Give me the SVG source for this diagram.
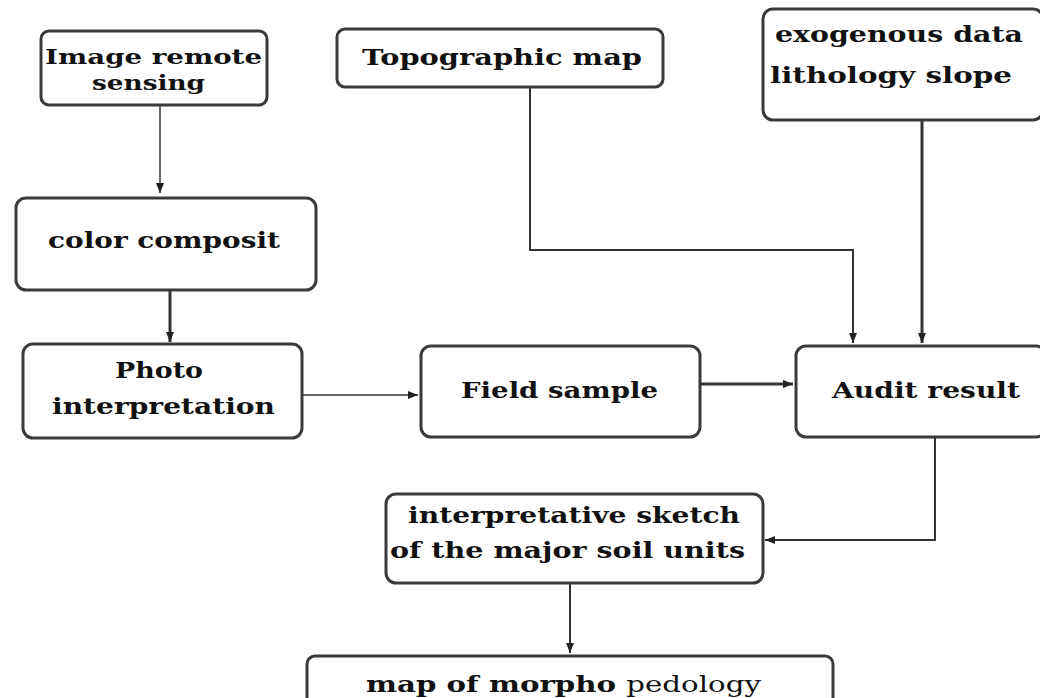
<svg xmlns="http://www.w3.org/2000/svg" width="1040" height="698" viewBox="0 0 1040 698">
<style>
.box{fill:#fff;stroke:#3a3a3a;stroke-width:3}
.t{font-family:"DejaVu Serif","Liberation Serif",serif;font-weight:bold;font-size:23px;fill:#111}
.s{font-size:20px}
.c{fill:none;stroke:#333}
</style>
<defs>
<marker id="ah" viewBox="0 0 10 10" refX="10" refY="5" markerWidth="10" markerHeight="10" markerUnits="userSpaceOnUse" orient="auto">
<path d="M0,1 L10,5 L0,9 z" fill="#222"/>
</marker>
</defs>
<rect width="1040" height="698" fill="#fff"/>
<g id="connectors">
<path class="c" stroke-width="1.5" d="M160,105 V193" marker-end="url(#ah)"/>
<path class="c" stroke-width="3" d="M170,290 V342" marker-end="url(#ah)"/>
<path class="c" stroke-width="1.5" d="M302,395 H418" marker-end="url(#ah)"/>
<path class="c" stroke-width="3" d="M700,384 H793" marker-end="url(#ah)"/>
<path class="c" stroke-width="2" d="M530,87 V250 H853 V343" marker-end="url(#ah)"/>
<path class="c" stroke-width="3" d="M922,120 V343" marker-end="url(#ah)"/>
<path class="c" stroke-width="2" d="M935,437 V540 H765" marker-end="url(#ah)"/>
<path class="c" stroke-width="2" d="M570,583 V653" marker-end="url(#ah)"/>
</g>
<g id="n-image">
<rect class="box" x="41" y="31" width="226" height="74" rx="8"/>
<text class="t s" x="45" y="64" textLength="217" lengthAdjust="spacingAndGlyphs">Image remote</text>
<text class="t s" x="92" y="90" textLength="113" lengthAdjust="spacingAndGlyphs">sensing</text>
</g>
<g id="n-topo">
<rect class="box" x="337" y="29" width="326" height="58" rx="8"/>
<text class="t" x="362" y="65" textLength="280" lengthAdjust="spacingAndGlyphs">Topographic map</text>
</g>
<g id="n-exo">
<rect class="box" x="763" y="9" width="280" height="111" rx="10"/>
<text class="t" x="775" y="42" textLength="248" lengthAdjust="spacingAndGlyphs">exogenous data</text>
<text class="t" x="770" y="83" textLength="242" lengthAdjust="spacingAndGlyphs">lithology  slope</text>
</g>
<g id="n-color">
<rect class="box" x="16" y="198" width="300" height="92" rx="10"/>
<text class="t" x="48" y="248" textLength="232" lengthAdjust="spacingAndGlyphs">color composit</text>
</g>
<g id="n-photo">
<rect class="box" x="23" y="344" width="279" height="94" rx="10"/>
<text class="t" x="115" y="378" textLength="88" lengthAdjust="spacingAndGlyphs">Photo</text>
<text class="t" x="52" y="414" textLength="223" lengthAdjust="spacingAndGlyphs">interpretation</text>
</g>
<g id="n-field">
<rect class="box" x="421" y="346" width="279" height="91" rx="10"/>
<text class="t" x="461" y="398" textLength="197" lengthAdjust="spacingAndGlyphs">Field sample</text>
</g>
<g id="n-audit">
<rect class="box" x="796" y="346" width="250" height="91" rx="10"/>
<text class="t" x="832" y="398" textLength="188" lengthAdjust="spacingAndGlyphs">Audit result</text>
</g>
<g id="n-sketch">
<rect class="box" x="386" y="494" width="377" height="89" rx="10"/>
<text class="t" x="408" y="523" textLength="332" lengthAdjust="spacingAndGlyphs">interpretative sketch</text>
<text class="t" x="390" y="558" textLength="355" lengthAdjust="spacingAndGlyphs">of the major soil units</text>
</g>
<g id="n-map">
<rect class="box" x="307" y="656" width="526" height="60" rx="8"/>
<text class="t" x="366" y="692" textLength="395" lengthAdjust="spacingAndGlyphs">map of morpho <tspan font-weight="normal">pedology</tspan></text>
</g>
</svg>
